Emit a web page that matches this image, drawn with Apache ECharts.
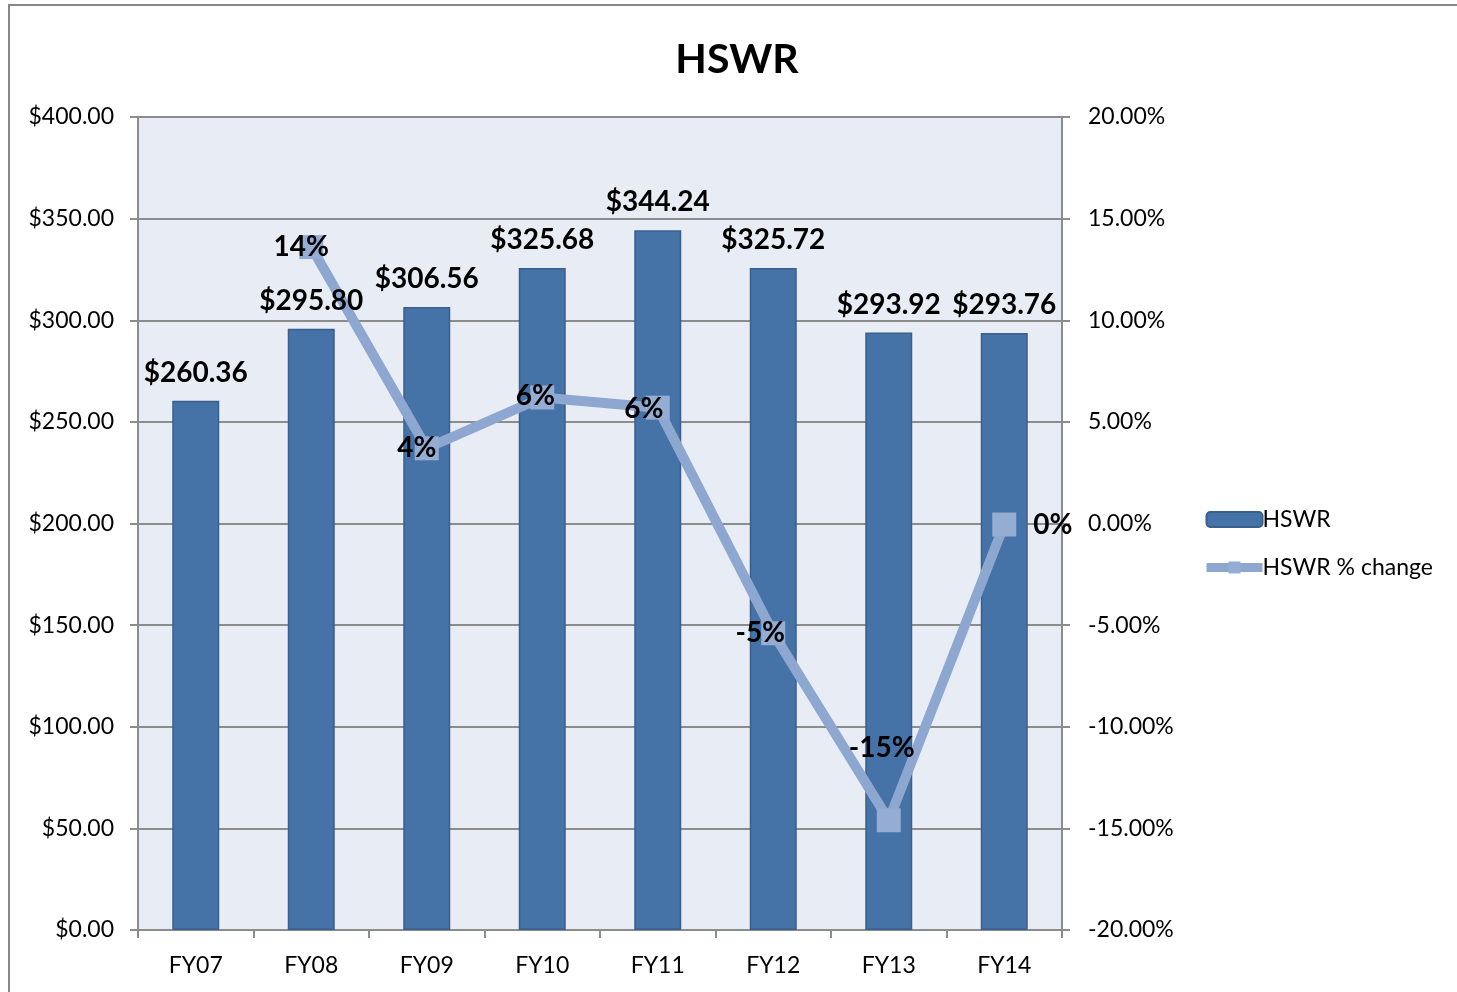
<!DOCTYPE html>
<html><head><meta charset="utf-8">
<script src="https://cdn.jsdelivr.net/npm/echarts@6/dist/echarts.min.js"></script>
<style>html,body{margin:0;padding:0;background:#fff}#c{width:1457px;height:992px}</style>
</head><body><div id="c"></div>
<script>
const categories = ['FY07','FY08','FY09','FY10','FY11','FY12','FY13','FY14'];
const hswr = [260.36, 295.80, 306.56, 325.68, 344.24, 325.72, 293.92, 293.76];
const pctChange = [null, 13.6, 3.7, 6.2, 5.7, -5.4, -14.6, -0.05];
const leftTicks = {min: 0, max: 400, interval: 50};
const rightTicks = {min: -20, max: 20, interval: 5};

const FONT = 'Lato, "Open Sans", sans-serif';
const labelOffsets = [null, [-10,0], [-10,0], [-7,-2], [-14,1], [-13,0], [-7,-72], null];
const lineData = pctChange.map((v, i) => {
  if (v === null) return null;
  const item = {value: v};
  if (labelOffsets[i]) item.label = {position: 'inside', offset: labelOffsets[i]};
  else item.label = {position: 'right', distance: 17};
  return item;
});

const chart = echarts.init(document.getElementById('c'));
chart.setOption({
  animation: false,
  backgroundColor: '#fff',
  title: {text: 'HSWR', left: 732, top: 34, textAlign: 'center',
    textStyle: {fontFamily: FONT, fontSize: 41, fontWeight: 'bold', color: '#000'}},
  graphic: [{type: 'rect', shape: {x: 9, y: 5, width: 1500, height: 1000},
    style: {fill: 'none', stroke: '#878787', lineWidth: 2}, z: -10}],
  legend: {orient: 'vertical', left: 1202, top: 508, padding: 0, itemWidth: 56, itemHeight: 15, itemGap: 25,
    textStyle: {fontFamily: FONT, fontSize: 23, color: '#000', padding: [0,0,0,-5]},
    data: [
      {name: 'HSWR'},
      {name: 'HSWR % change', lineStyle: {width: 9, color: '#8ea7d0'}}
    ]},
  grid: {left: 138, right: 395, top: 117, bottom: 62, show: true, backgroundColor: '#e8edf5', borderColor: '#8c8c8c', borderWidth: 1},
  xAxis: {type: 'category', data: categories,
    axisLine: {lineStyle: {color: '#8c8c8c', width: 2}},
    axisTick: {show: true, length: 8, lineStyle: {color: '#8c8c8c', width: 2}},
    axisLabel: {fontFamily: FONT, fontSize: 23, color: '#000', margin: 24}},
  yAxis: [
    {type: 'value', min: leftTicks.min, max: leftTicks.max, interval: leftTicks.interval,
      axisLine: {show: true, lineStyle: {color: '#8c8c8c', width: 2}},
      axisTick: {show: true, length: 8, lineStyle: {color: '#8c8c8c', width: 2}},
      splitLine: {lineStyle: {color: '#8c8c8c', width: 2}},
      axisLabel: {fontFamily: FONT, fontSize: 23, color: '#000', margin: 24,
        formatter: v => '$' + v.toFixed(2)}},
    {type: 'value', min: rightTicks.min, max: rightTicks.max, interval: rightTicks.interval, position: 'right',
      axisLine: {show: true, lineStyle: {color: '#8c8c8c', width: 2}},
      axisTick: {show: true, length: 8, lineStyle: {color: '#8c8c8c', width: 2}},
      splitLine: {show: false},
      axisLabel: {fontFamily: FONT, fontSize: 23, color: '#000', margin: 26,
        formatter: v => v.toFixed(2) + '%'}}
  ],
  series: [
    {name: 'HSWR', type: 'bar', data: hswr, barWidth: 47, yAxisIndex: 0,
      itemStyle: {color: '#4572a7', borderColor: '#3b5f8c', borderWidth: 1.5}, z: 2},
    {name: 'HSWR % change', type: 'line', data: lineData, yAxisIndex: 1,
      symbol: 'rect', symbolSize: 24, connectNulls: false,
      lineStyle: {color: '#8ea7d0', width: 10},
      itemStyle: {color: '#95acd3'},
      label: {show: true, fontFamily: FONT, fontSize: 28, fontWeight: 'bold', color: '#000',
        formatter: p => Math.round(p.value) + '%'}, z: 3},
    {name: 'HSWR labels', type: 'bar', data: hswr, barWidth: 47, barGap: '-100%', yAxisIndex: 0,
      itemStyle: {color: 'rgba(0,0,0,0)'}, silent: true, z: 10,
      label: {show: true, position: 'top', distance: 14, fontFamily: FONT, fontSize: 28, fontWeight: 'bold', color: '#000',
        formatter: p => '$' + p.value.toFixed(2)}}
  ]
});
</script></body></html>
